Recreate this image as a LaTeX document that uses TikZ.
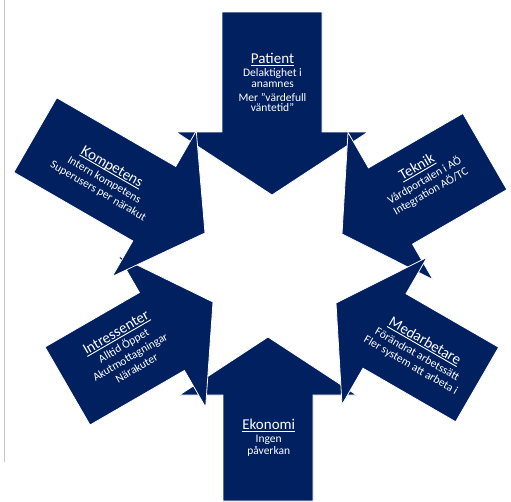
\documentclass[tikz,border=0pt]{standalone}
\usepackage{fontspec}
\setmainfont{Carlito}
\definecolor{navy}{RGB}{0,32,96}
\newcommand{\myul}[1]{\setbox0\hbox{#1}\rlap{\rule[-2.2pt]{\wd0}{0.9pt}}\box0}
\newcommand{\inarrow}[7]{%
  \begin{scope}[shift={(#1,#2)}, rotate=#3]
    \filldraw[arrowshape] (0,0) -- (-#5,#6) -- (-#5,#7) -- (-#4,#7) -- (-#4,-#7) -- (-#5,-#7) -- (-#5,-#6) -- cycle;
  \end{scope}}
\tikzset{
  arrowshape/.style={fill=navy, draw=white, line width=0.8pt, line join=miter},
  ttl/.style={text=white, font=\fontsize{15}{18}\selectfont, inner sep=0pt, anchor=base},
  bdy/.style={text=white, font=\fontsize{11.5}{13}\selectfont, inner sep=0pt, anchor=base},
}
\begin{document}
\begin{tikzpicture}[x=1pt,y=-1pt]
\useasboundingbox (0,0) rectangle (511,501);
\fill[white] (0,0) rectangle (511,501);
\draw[black!22, line width=1pt] (4,0) -- (4,462);
% vertical arrows
\inarrow{272}{195}{270}{183}{63}{96}{50}
\inarrow{268}{337}{90}{164}{58}{88.5}{45}
% diagonal arrows
\inarrow{342}{234}{210}{165}{56}{85}{44}
\inarrow{336}{303}{150}{163}{56}{85}{43}
\inarrow{213}{302}{30}{168}{59}{87.5}{45}
\inarrow{205}{233}{330}{196}{58.6}{84}{43}
% Patient
\begin{scope}[shift={(272.5,63.3)}]
  \node[ttl] (pt) at (0,0) {\myul{Patient}};
  \node[bdy] (p1) at (0,12.7) {Delaktighet i};
  \node[bdy] (p2) at (0,24) {anamnes};
  \node[bdy] (p3) at (0,37.7) {Mer ”värdefull};
  \node[bdy] (p4) at (0,48.4) {väntetid”};
\end{scope}
% Ekonomi
\begin{scope}[shift={(268.7,429.3)}]
  \node[ttl] (et) at (0,0) {\myul{Ekonomi}};
  \node[bdy] (e1) at (0,13.3) {Ingen};
  \node[bdy] (e2) at (0,24.7) {påverkan};
\end{scope}
% Teknik
\begin{scope}[shift={(419,171)}, rotate=30, transform shape]
  \node[ttl] (tt) at (0,0) {\myul{Teknik}};
  \node[bdy] (t1) at (0,14.5) {Vårdportalen i AÖ};
  \node[bdy] (t2) at (0,27) {Integration AÖ/TC};
\end{scope}
% Medarbetare
\begin{scope}[shift={(422.7,345)}, rotate=-30, transform shape]
  \node[ttl] (mt) at (0,0) {\myul{Medarbetare}};
  \node[bdy] (m1) at (0,14.5) {Förändrat arbetssätt};
  \node[bdy] (m2) at (0,27) {Fler system att arbeta i};
\end{scope}
% Kompetens
\begin{scope}[shift={(110,170.5)}, rotate=-30, transform shape]
  \node[ttl] (kt) at (0,0) {\myul{Kompetens}};
  \node[bdy] (k1) at (0,14.5) {Intern kompetens};
  \node[bdy] (k2) at (0,27) {Superusers per närakut};
\end{scope}
% Intressenter
\begin{scope}[shift={(118.3,336.5)}, rotate=30, transform shape]
  \node[ttl] (it) at (0,0) {\myul{Intressenter}};
  \node[bdy] (i1) at (0,14.5) {Alltid Öppet};
  \node[bdy] (i2) at (0,27.5) {Akutmottagningar};
  \node[bdy] (i3) at (0,40.5) {Närakuter};
\end{scope}
\end{tikzpicture}
\end{document}
